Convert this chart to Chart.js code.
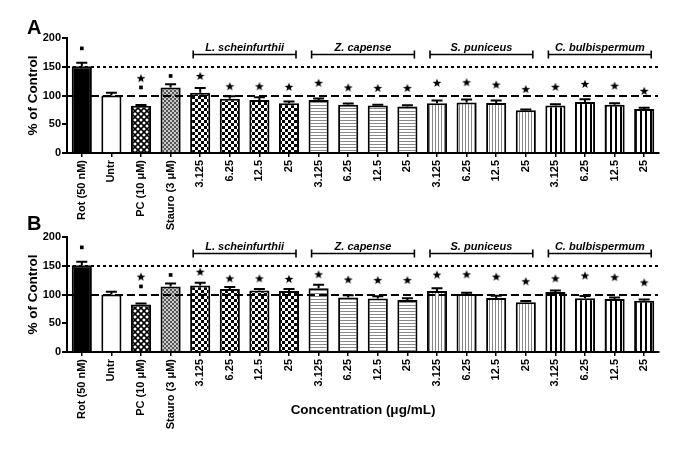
<!DOCTYPE html>
<html><head><meta charset="utf-8">
<script src="https://cdn.jsdelivr.net/npm/chart.js@4/dist/chart.umd.min.js"></script>
<style>
html,body{margin:0;padding:0;background:#fff;}
#wrap{position:relative;width:685px;height:456px;overflow:hidden;background:#fff;}
canvas{position:absolute;left:0;}
#cA{top:0px}
#cB{top:215px}
</style></head><body>
<div id="wrap"><canvas id="cA" width="685" height="240"></canvas><canvas id="cB" width="685" height="241"></canvas></div>
<script>
// ---- data ----
const categories = ['Rot (50 nM)','Untr','PC (10 μM)','Stauro (3 μM)',
  '3.125','6.25','12.5','25','3.125','6.25','12.5','25',
  '3.125','6.25','12.5','25','3.125','6.25','12.5','25'];
const yTicks = [0, 50, 100, 150, 200];
const refLines = [100, 150];

const valuesA = [151,100,82,114, 105,94.5,92,86.5, 92,84,82.5,81, 86.5,88,87,74.5, 82.5,88.5,84,76.5];
const errorsA = [6,5,1.5,5.5, 8,4,5,3, 3,2,1.5,2, 5,5,4.5,1, 2.5,5,2.5,2];
const starsA  = [null,null,130,null, 134,116,116,115, 122,114,113,113, 122,123,119,111, 115,120,117,108];
const dotsA   = [182,null,114,134, null,null,null,null, null,null,null,null, null,null,null,null, null,null,null,null];

const valuesB = [151,100,82.5,114, 115.5,109.5,107,106, 111,95,93,90.5, 106,101,94,86.5, 104.5,93.5,92,89];
const errorsB = [6,5,2,5, 5,3.5,2.5,3.5, 6,3.5,4,3, 5,2,4,2, 2.5,4,3,2.5];
const starsB  = [null,null,131,null, 139.5,128,128,127, 135,126,125,125, 134.5,135,131,123, 128,133,130,121];
const dotsB   = [182,null,114,134, null,null,null,null, null,null,null,null, null,null,null,null, null,null,null,null];

const groupNames = ['L. scheinfurthii','Z. capense','S. puniceus','C. bulbispermum'];
const groupStart = [4, 8, 12, 16];
const groupEnd   = [7, 11, 15, 19];
const bracketLevel = 172;

const yTitle = '% of Control';
const xTitle = 'Concentration (μg/mL)';

// ---- helpers ----
function tile(ctx, w, h, fn){
  const c = document.createElement('canvas'); c.width = w; c.height = h;
  const g = c.getContext('2d'); g.fillStyle = '#fff'; g.fillRect(0,0,w,h); fn(g);
  return ctx.createPattern(c, 'repeat');
}
function makeFills(ctx){
  const pc = tile(ctx, 6, 6, g => { g.strokeStyle='#000'; g.lineWidth=1.6;
    g.beginPath(); g.moveTo(-1,-1); g.lineTo(7,7); g.moveTo(7,-1); g.lineTo(-1,7); g.stroke(); });
  const st = tile(ctx, 4, 4, g => { g.fillStyle='#555'; g.fillRect(0,0,2,2); g.fillRect(2,2,2,2);
    g.fillStyle='#c8c8c8'; g.fillRect(2,0,2,2); g.fillRect(0,2,2,2); });
  const ls = tile(ctx, 6, 6, g => { g.fillStyle='#000'; g.fillRect(0,0,3,3); g.fillRect(3,3,3,3); });
  const zc = tile(ctx, 1, 3, g => { g.fillStyle='#888'; g.fillRect(0,0,1,1); });
  const sp = tile(ctx, 3, 1, g => { g.fillStyle='#888'; g.fillRect(0,0,1,1); });
  const cb = tile(ctx, 5, 1, g => { g.fillStyle='#000'; g.fillRect(0,0,2,1); });
  const f = ['#000', '#fff', pc, st];
  for (let i = 0; i < 4; i++) f.push(ls);
  for (let i = 0; i < 4; i++) f.push(zc);
  for (let i = 0; i < 4; i++) f.push(sp);
  for (let i = 0; i < 4; i++) f.push(cb);
  return f;
}
const starCanvas = (() => {
  const c = document.createElement('canvas'); c.width = 10; c.height = 10;
  const g = c.getContext('2d'); g.fillStyle = '#000'; g.beginPath();
  for (let i = 0; i < 10; i++) {
    const r = i % 2 ? 1.9 : 4.6; const a = -Math.PI/2 + i*Math.PI/5;
    const x = 5 + r*Math.cos(a), y = 5.4 + r*Math.sin(a);
    i ? g.lineTo(x, y) : g.moveTo(x, y);
  }
  g.closePath(); g.fill(); return c;
})();

const FONT = "'Liberation Sans', Arial, sans-serif";

function makeChart(id, values, errors, stars, dots, letter, letterY, padTop, xHeight, showXTitle, xTitleY){
  const canvas = document.getElementById(id);
  const ctx = canvas.getContext('2d');
  const deco = {
    id: 'deco' + id,
    afterDatasetsDraw(chart){
      const c = chart.ctx, x = chart.scales.x, y = chart.scales.y, a = chart.chartArea;
      c.save();
      // error bars
      c.strokeStyle = '#000'; c.lineWidth = 2;
      values.forEach((v, i) => {
        const px = x.getPixelForValue(i), y0 = y.getPixelForValue(v), y1 = y.getPixelForValue(v + errors[i]);
        c.beginPath(); c.moveTo(px, y0); c.lineTo(px, y1);
        c.moveTo(px - 5.5, y1); c.lineTo(px + 5.5, y1); c.stroke();
      });
      // reference lines
      refLines.forEach((r, k) => {
        const py = Math.round(y.getPixelForValue(r));
        c.setLineDash(k === 0 ? [8, 4] : [3, 3]);
        c.lineWidth = 2;
        c.beginPath(); c.moveTo(a.left, py); c.lineTo(a.right - 1, py); c.stroke();
      });
      c.setLineDash([]);
      // group brackets
      const by = Math.round(y.getPixelForValue(bracketLevel)) + 0.5;
      c.lineWidth = 1.6; c.fillStyle = '#000';
      c.font = "italic bold 11px " + FONT; c.textAlign = 'center'; c.textBaseline = 'alphabetic';
      groupNames.forEach((g, k) => {
        const x0 = x.getPixelForValue(groupStart[k]) - 7, x1 = x.getPixelForValue(groupEnd[k]) + 7;
        c.beginPath(); c.moveTo(x0, by); c.lineTo(x1, by);
        c.moveTo(x0, by - 4); c.lineTo(x0, by + 4); c.moveTo(x1, by - 4); c.lineTo(x1, by + 4); c.stroke();
        c.fillText(g, (x0 + x1) / 2, by - 4);
      });
      c.restore();
    },
    afterDraw(chart){
      const c = chart.ctx; c.save();
      c.fillStyle = '#000'; c.textBaseline = 'alphabetic'; c.textAlign = 'left';
      c.font = "bold 20px " + FONT; c.fillText(letter, 27, letterY);
      if (showXTitle) {
        c.font = "bold 13.5px " + FONT; c.textAlign = 'center'; c.textBaseline = 'middle';
        const a = chart.chartArea; c.fillText(xTitle, (a.left + a.right) / 2, xTitleY);
      }
      c.restore();
    }
  };
  return new Chart(ctx, {
    type: 'bar',
    data: {
      labels: categories,
      datasets: [
        { type: 'line', data: stars, showLine: false, pointStyle: starCanvas, pointRadius: 5, order: 0 },
        { type: 'line', data: dots, showLine: false, pointStyle: 'rect', pointRadius: 2.6,
          pointBackgroundColor: '#000', pointBorderColor: '#000', pointBorderWidth: 0, order: 0 },
        { type: 'bar', data: values, backgroundColor: makeFills(ctx), borderColor: '#000', borderWidth: 2,
          barPercentage: 0.68, categoryPercentage: 1.0, order: 1 }
      ]
    },
    options: {
      responsive: false, animation: false, devicePixelRatio: 1,
      layout: { padding: { top: padTop, right: 26, left: 0, bottom: 0 } },
      plugins: { legend: { display: false }, tooltip: { enabled: false } },
      scales: {
        x: {
          afterFit(s){ s.height = xHeight; },
          grid: { offset: false, drawOnChartArea: false, drawTicks: true, tickLength: 4, color: '#000', lineWidth: 1.5 },
          border: { display: true, color: '#000', width: 2 },
          ticks: { autoSkip: false, minRotation: 90, maxRotation: 90, padding: 3, color: '#000',
            font: { family: FONT, size: 11, weight: 'bold' } }
        },
        y: {
          min: 0, max: 200,
          afterFit(s){ s.width = 67; },
          afterBuildTicks(s){ s.ticks = yTicks.map(v => ({ value: v })); },
          grid: { drawOnChartArea: false, drawTicks: true, tickLength: 5, color: '#000', lineWidth: 2 },
          border: { display: true, color: '#000', width: 2 },
          ticks: { padding: 1, color: '#000', font: { family: FONT, size: 11, weight: 'bold' } },
          title: { display: true, text: yTitle, color: '#000', padding: { top: 25, bottom: 0 },
            font: { family: FONT, size: 13.5, weight: 'bold' } }
        }
      }
    },
    plugins: [deco]
  });
}

makeChart('cA', valuesA, errorsA, starsA, dotsA, 'A', 33.5, 38, 87, false, 0);
makeChart('cB', valuesB, errorsB, starsB, dotsB, 'B', 15, 22, 104, true, 195);
</script>
</body></html>
